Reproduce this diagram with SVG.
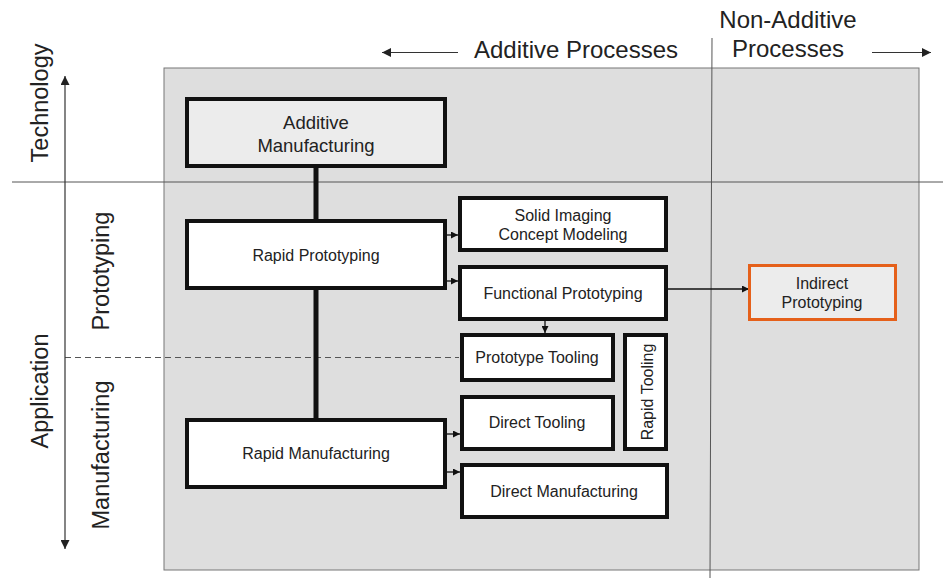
<svg xmlns="http://www.w3.org/2000/svg" width="943" height="578" viewBox="0 0 943 578">
  <style>
    text { font-family: "Liberation Sans", Arial, sans-serif; fill: #222; }
    .axis { font-size: 23.5px; }
    .head { font-size: 24px; }
    .big { font-size: 18.5px; }
    .lbl { font-size: 16px; }
    .box { fill: #ffffff; stroke: #111; stroke-width: 4; }
    .boxg { fill: #ececec; stroke: #111; stroke-width: 4; }
    .thin { stroke: #333; stroke-width: 1.2; fill: none; }
    .link { stroke: #111; stroke-width: 1.3; fill: none; }
    .trunk { stroke: #111; stroke-width: 5; fill: none; }
  </style>
  <defs>
    <marker id="tip" viewBox="0 0 10 10" refX="10" refY="5" markerWidth="7" markerHeight="7" markerUnits="userSpaceOnUse" orient="auto">
      <path d="M0,0 L10,5 L0,10 z" fill="#111"/>
    </marker>
    <marker id="tipL" viewBox="0 0 10 10" refX="10" refY="5" markerWidth="10" markerHeight="9" markerUnits="userSpaceOnUse" orient="auto">
      <path d="M0,0 L10,5 L0,10 z" fill="#222"/>
    </marker>
  </defs>

  <!-- background panel -->
  <rect x="164" y="68" width="755" height="502" fill="#dedede" stroke="#777" stroke-width="1"/>

  <!-- region dividers -->
  <line x1="12" y1="182" x2="943" y2="182" stroke="#555" stroke-width="1"/>
  <line x1="712" y1="38" x2="710" y2="578" stroke="#555" stroke-width="1"/>
  <line x1="65" y1="357.5" x2="459" y2="357.5" stroke="#555" stroke-width="1" stroke-dasharray="6,4"/>

  <!-- axis on the left -->
  <line class="thin" x1="65" y1="250" x2="65" y2="76" marker-end="url(#tipL)"/>
  <line class="thin" x1="65" y1="250" x2="65" y2="549" marker-end="url(#tipL)"/>
  <text class="axis" transform="translate(40,103) rotate(-90)" text-anchor="middle" dominant-baseline="central">Technology</text>
  <text class="axis" transform="translate(40,391) rotate(-90)" text-anchor="middle" dominant-baseline="central">Application</text>
  <text class="axis" transform="translate(101,271) rotate(-90)" text-anchor="middle" dominant-baseline="central">Prototyping</text>
  <text class="axis" transform="translate(101,455) rotate(-90)" text-anchor="middle" dominant-baseline="central">Manufacturing</text>

  <!-- headers -->
  <line class="thin" x1="458" y1="52.5" x2="382" y2="52.5" marker-end="url(#tipL)"/>
  <text class="head" x="576" y="58" text-anchor="middle">Additive Processes</text>
  <text class="head" x="788" y="28" text-anchor="middle">Non-Additive</text>
  <text class="head" x="788" y="57" text-anchor="middle">Processes</text>
  <line class="thin" x1="872" y1="52.5" x2="931" y2="52.5" marker-end="url(#tipL)"/>

  <!-- connectors -->
  <g id="connectors">
    <line class="trunk" x1="316" y1="167" x2="316" y2="220"/>
    <line class="trunk" x1="316" y1="289" x2="316" y2="419"/>
    <line class="link" x1="447" y1="235" x2="458" y2="235" marker-end="url(#tip)"/>
    <line class="link" x1="447" y1="281" x2="458" y2="281" marker-end="url(#tip)"/>
    <line class="link" x1="668" y1="289" x2="749" y2="289" marker-end="url(#tip)"/>
    <line class="link" x1="545" y1="321" x2="545" y2="333" marker-end="url(#tip)"/>
    <line class="link" x1="447" y1="434" x2="460" y2="434" marker-end="url(#tip)"/>
    <line class="link" x1="447" y1="472" x2="460" y2="472" marker-end="url(#tip)"/>
  </g>

  <g id="additive-manufacturing">
    <rect class="boxg" x="187" y="99" width="258" height="67"/>
    <text class="big" x="316" y="129" text-anchor="middle">Additive</text>
    <text class="big" x="316" y="152" text-anchor="middle">Manufacturing</text>
  </g>

  <g id="rapid-prototyping">
    <rect class="box" x="187" y="221" width="258" height="67"/>
    <text class="lbl" x="316" y="261" text-anchor="middle">Rapid Prototyping</text>
  </g>

  <g id="rapid-manufacturing">
    <rect class="box" x="187" y="420" width="258" height="67"/>
    <text class="lbl" x="316" y="459" text-anchor="middle">Rapid Manufacturing</text>
  </g>

  <g id="solid-imaging">
    <rect class="box" x="460" y="198" width="206" height="52"/>
    <text class="lbl" x="563" y="221" text-anchor="middle">Solid Imaging</text>
    <text class="lbl" x="563" y="240" text-anchor="middle">Concept Modeling</text>
  </g>

  <g id="functional-prototyping">
    <rect class="box" x="460" y="267" width="206" height="52"/>
    <text class="lbl" x="563" y="299" text-anchor="middle">Functional Prototyping</text>
  </g>

  <g id="prototype-tooling">
    <rect class="box" x="462" y="335" width="151" height="45"/>
    <text class="lbl" x="537" y="363" text-anchor="middle">Prototype Tooling</text>
  </g>

  <g id="rapid-tooling">
    <rect class="box" x="625" y="335" width="41" height="114"/>
    <text class="lbl" transform="translate(647,392) rotate(-90)" text-anchor="middle" dominant-baseline="central">Rapid Tooling</text>
  </g>

  <g id="direct-tooling">
    <rect class="box" x="462" y="397" width="151" height="52"/>
    <text class="lbl" x="537" y="428" text-anchor="middle">Direct Tooling</text>
  </g>

  <g id="direct-manufacturing">
    <rect class="box" x="462" y="465" width="205" height="52"/>
    <text class="lbl" x="564" y="497" text-anchor="middle">Direct Manufacturing</text>
  </g>

  <g id="indirect-prototyping">
    <rect x="749.5" y="265.5" width="146" height="54" fill="#ececec" stroke="#e5601a" stroke-width="3"/>
    <text class="lbl" x="822" y="289" text-anchor="middle">Indirect</text>
    <text class="lbl" x="822" y="308" text-anchor="middle">Prototyping</text>
  </g>
</svg>
